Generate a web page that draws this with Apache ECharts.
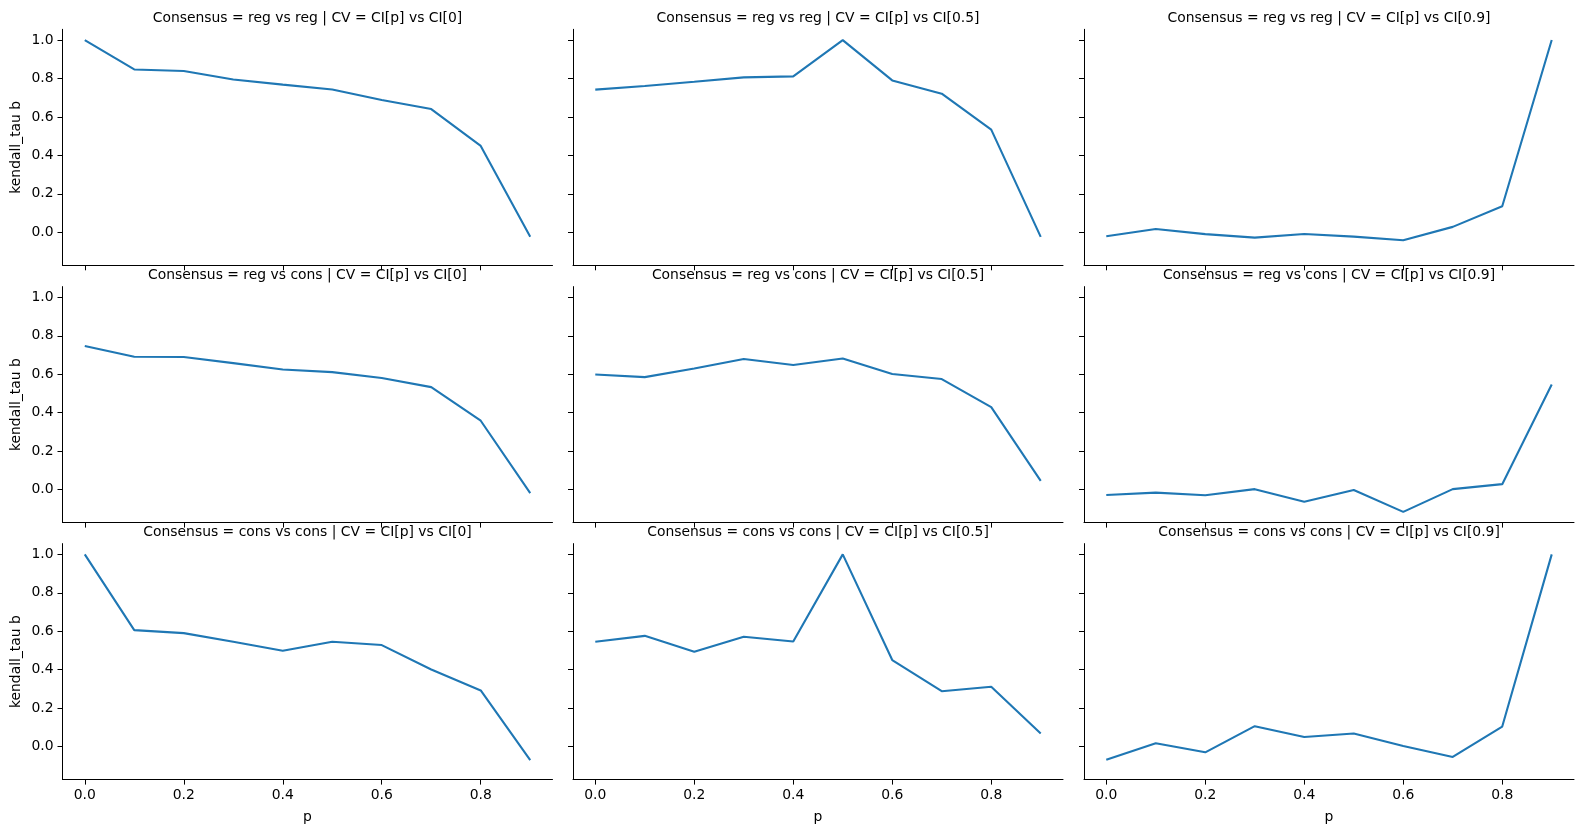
<!DOCTYPE html>
<html>
<head>
<meta charset="utf-8">
<script src="https://cdn.jsdelivr.net/npm/echarts@6/dist/echarts.min.js"></script>
<style>
  html, body { margin: 0; padding: 0; background: #fff; }
  #chart { width: 1584px; height: 833px; }
</style>
</head>
<body>
<div id="chart"></div>
<script>
// x values shared by every panel
var pValues = [0.0, 0.1, 0.2, 0.3, 0.4, 0.5, 0.6, 0.7, 0.8, 0.9];

// row labels (Consensus) and column labels (CV)
var consensusLabels = ['reg vs reg', 'reg vs cons', 'cons vs cons'];
var cvLabels = ['CI[0]', 'CI[0.5]', 'CI[0.9]'];

// kendall_tau b, one array per panel
var regRegCI0 = [1.0, 0.847, 0.839, 0.795, 0.768, 0.743, 0.688, 0.641, 0.449, -0.024];
var regRegCI05 = [0.742, 0.761, 0.783, 0.806, 0.811, 1.0, 0.790, 0.721, 0.534, -0.024];
var regRegCI09 = [-0.021, 0.017, -0.010, -0.028, -0.009, -0.023, -0.042, 0.028, 0.135, 1.0];
var regConsCI0 = [0.747, 0.691, 0.690, 0.658, 0.625, 0.611, 0.580, 0.533, 0.358, -0.019];
var regConsCI05 = [0.599, 0.585, 0.630, 0.679, 0.648, 0.682, 0.601, 0.575, 0.429, 0.045];
var regConsCI09 = [-0.028, -0.016, -0.030, 0.002, -0.064, -0.002, -0.116, 0.002, 0.028, 0.547];
var consConsCI0 = [1.0, 0.606, 0.590, 0.545, 0.498, 0.545, 0.528, 0.401, 0.292, -0.071];
var consConsCI05 = [0.545, 0.576, 0.493, 0.571, 0.547, 1.0, 0.450, 0.288, 0.311, 0.068];
var consConsCI09 = [-0.069, 0.017, -0.030, 0.106, 0.050, 0.068, 0.003, -0.054, 0.104, 1.0];

var panelValues = [
    [regRegCI0, regRegCI05, regRegCI09],
    [regConsCI0, regConsCI05, regConsCI09],
    [consConsCI0, consConsCI05, consConsCI09]
];

// tick labels
var xTicks = [0.0, 0.2, 0.4, 0.6, 0.8];
var yTicks = [0.0, 0.2, 0.4, 0.6, 0.8, 1.0];

var Facets = function () {

    var font = 'DejaVu Sans, Liberation Sans, sans-serif';
    var fontSize = 13.9;
    var colLeft = [62.5, 573, 1084];
    var rowTop = [29.3, 286.6, 543.6];
    var cellW = 490;
    var cellH = 236;

    var initChart = function () {
        var grids = [], xAxes = [], yAxes = [], series = [], graphics = [];

        for (var r = 0; r < 3; r++) {
            for (var c = 0; c < 3; c++) {
                var idx = r * 3 + c;
                grids.push({
                    left: colLeft[c],
                    top: rowTop[r],
                    width: cellW,
                    height: cellH,
                    containLabel: false
                });
                xAxes.push({
                    type: 'value',
                    gridIndex: idx,
                    min: -0.045,
                    max: 0.945,
                    name: r === 2 ? 'p' : '',
                    nameLocation: 'middle',
                    nameGap: 31,
                    nameTextStyle: { color: '#000', fontSize: fontSize, fontFamily: font },
                    axisLine: { show: true, onZero: false, lineStyle: { color: '#000', width: 1 } },
                    axisTick: {
                        show: true,
                        customValues: xTicks,
                        length: 5,
                        lineStyle: { color: '#000', width: 1 }
                    },
                    axisLabel: {
                        show: r === 2,
                        customValues: xTicks,
                        margin: 9,
                        color: '#000',
                        fontSize: fontSize,
                        fontFamily: font,
                        formatter: function (v) { return v.toFixed(1); }
                    },
                    splitLine: { show: false }
                });
                yAxes.push({
                    type: 'value',
                    gridIndex: idx,
                    min: -0.172,
                    max: 1.056,
                    name: c === 0 ? 'kendall_tau b' : '',
                    nameLocation: 'middle',
                    nameRotate: 90,
                    nameGap: 39,
                    nameTextStyle: { color: '#000', fontSize: fontSize, fontFamily: font },
                    axisLine: { show: true, onZero: false, lineStyle: { color: '#000', width: 1 } },
                    axisTick: {
                        show: true,
                        customValues: yTicks,
                        length: 5,
                        lineStyle: { color: '#000', width: 1 }
                    },
                    axisLabel: {
                        show: c === 0,
                        customValues: yTicks,
                        margin: 9,
                        color: '#000',
                        fontSize: fontSize,
                        fontFamily: font,
                        formatter: function (v) { return v.toFixed(1); }
                    },
                    splitLine: { show: false }
                });
                var vals = panelValues[r][c];
                var data = [];
                for (var i = 0; i < pValues.length; i++) {
                    data.push([pValues[i], vals[i]]);
                }
                series.push({
                    name: consensusLabels[r] + ' / ' + cvLabels[c],
                    type: 'line',
                    xAxisIndex: idx,
                    yAxisIndex: idx,
                    data: data,
                    symbol: 'none',
                    showSymbol: false,
                    lineStyle: { color: '#1f77b4', width: 2.1 },
                    itemStyle: { color: '#1f77b4' }
                });
                // facet title
                graphics.push({
                    type: 'text',
                    x: colLeft[c] + cellW / 2,
                    y: rowTop[r] - 11,
                    z: 100,
                    style: {
                        text: 'Consensus = ' + consensusLabels[r] + ' | CV = CI[p] vs ' + cvLabels[c],
                        fill: '#000',
                        fontSize: fontSize,
                        fontFamily: font,
                        align: 'center',
                        verticalAlign: 'middle'
                    }
                });
            }
        }

        var options = {
            backgroundColor: '#fff',
            animation: false,
            grid: grids,
            xAxis: xAxes,
            yAxis: yAxes,
            series: series,
            graphic: graphics
        };
        var chart = echarts.init(document.getElementById('chart'));
        chart.setOption(options);
    };

    return {
        init: function () {
            initChart();
        }
    };
}();

Facets.init();
</script>
</body>
</html>
